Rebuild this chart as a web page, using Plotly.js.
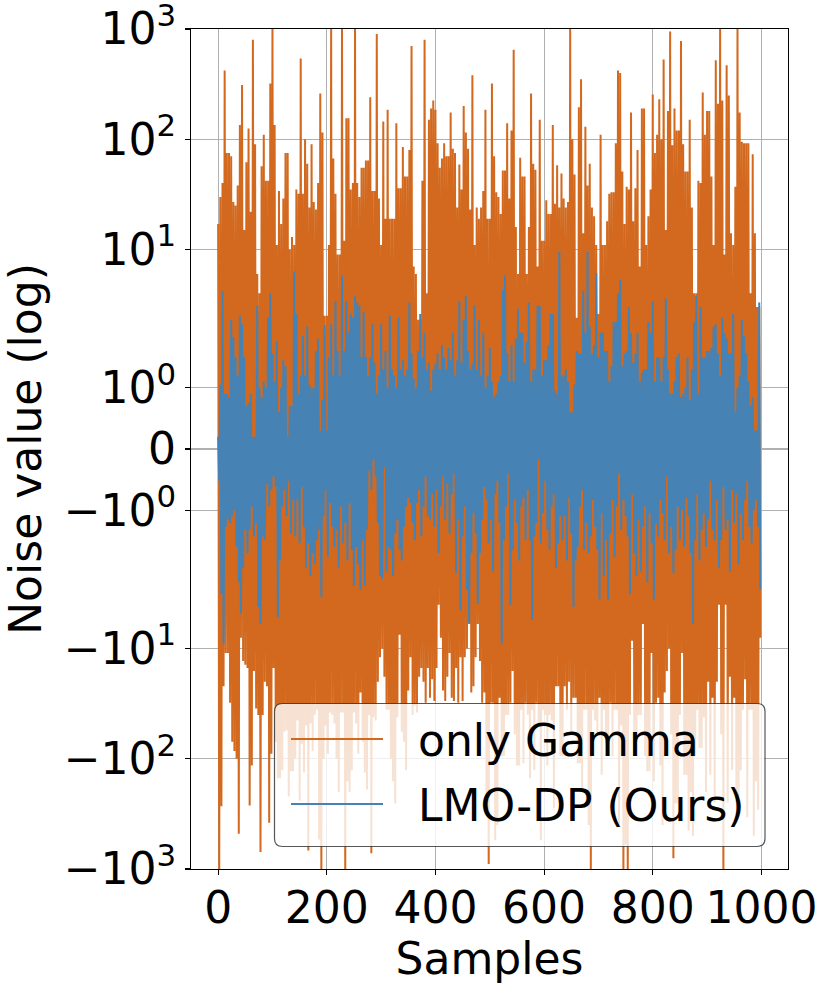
<!DOCTYPE html>
<html>
<head>
<meta charset="utf-8">
<script src="https://cdn.plot.ly/plotly-3.0.1.min.js"></script>
<style>
html,body{margin:0;padding:0;background:#ffffff;}
#chart{width:831px;height:988px;}
</style>
</head>
<body>
<div id="chart"></div>
<script>
// ---- data (raw noise values) ----
// "only Gamma": upper peaks at samples 0,4,8,...  and lower troughs at samples 2,6,10,...
const gammaPeaks = [
17,30,40,420,75,75,70,27,25,38,
135,310,15,62,125,22,800,90,6,4,
57,110,42,42,320,1100,135,11,34,17,
29,75,75,10,13,11,35,32,540,32,
100,60,24,90,27,23,40,260,115,2.5,
2.5,11,1100,67,32,9,9,1100,12,155,
155,35,40,1100,40,30,55,55,64,64,
240,34,34,900,29,11,145,19,185,19,
19,19,140,36,36,85,46,46,80,700,
7,6,2.3,2.3,42,800,4,150,190,225,
185,92,55,67,92,70,70,175,82,75,
24,59,35,200,115,82,23,380,11,24,
19,24,34,185,19,19,320,70,33,30,
21,52,52,140,29,120,650,16,6,68,
46,46,6,16,260,60,53,7,150,12,
12,28,21,21,135,26,58,24,49,29,
24,27,1100,100,48,2.4,195,350,14,130,
38,60,24,20,11,2.6,110,11,11,18,
32,33,33,92,420,400,51,17,37,35,
175,18,36,80,7,190,190,11,20,35,
255,75,110,230,100,530,15,180,950,88,
190,120,120,780,90,51,51,150,24,4,
4,42,40,265,110,180,180,46,11,520,
210,1100,225,9,470,250,14,11,37,1100,
175,95,92,92,92,4,73,14,3,3
];
const gammaTroughs = [
-1100,-270,-22,-11,-11,-31,-70,-85,-100,-480,
-8,-13,-14,-15,-265,-115,-16,-35,-40,-700,
-40,-20,-22,-380,-90,-15,-70,-150,-150,-127,
-57,-55,-220,-130,-130,-100,-45,-240,-73,-133,
-50,-680,-48,-85,-40,-36,-540,-1100,-100,-50,
-90,-38,-40,-48,-100,-200,-38,-38,-1100,-160,
-200,-127,-38,-48,-90,-25,-70,-133,-190,-40,
-720,-42,-45,-20,-12,-10,-18,-36,-36,-100,
-160,-254,-42,-7.5,-57,-70,-127,-24,-12,-40,
-33,-38,-18,-15,-20,-31,-15,-28,-19,-30,
-15,-4,-8,-24,-30,-18,-11,-28,-30,-15,
-31,-12,-30,-12,-10,-6,-25,-22,-12,-6,
-13,-31,-25,-300,-900,-31,-31,-550,-400,-28,
-95,-95,-40,-40,-31,-16,-60,-115,-115,-36,
-110,-31,-40,-150,-36,-127,-31,-50,-550,-36,
-40,-115,-40,-45,-280,-22,-22,-95,-95,-22,
-36,-20,-60,-28,-28,-110,-110,-185,-36,-36,
-400,-1100,-36,-45,-60,-28,-140,-36,-75,-75,
-31,-95,-36,-36,-400,-50,-1100,-600,-1100,-40,
-8.5,-63,-95,-40,-40,-6,-95,-130,-130,-11,
-160,-31,-28,-115,-400,-25,-16,-10,-60,-800,
-254,-254,-40,-11,-140,-140,-450,-200,-500,-95,
-36,-80,-80,-42,-200,-20,-140,-28,-250,-20,
-4,-60,-1100,-4,-250,-18,-127,-28,-220,-220,
-127,-36,-19,-340,-36,-36,-500,-160,-290,-8
];
// "LMO-DP (Ours)": upper peaks at samples 0,4,8,... and lower troughs at samples 2,6,10,...
const lmoPeaks = [
0.2,1.05,4.2,0.9,0.9,0.85,2.3,1.83,1.5,1.2,
2.5,2.1,1.5,0.7,0.75,0.9,0.2,0.2,3.1,1.0,
0.85,1.1,1.0,2.4,4.0,1.56,1.1,1.75,0.6,1.0,
1.45,1.35,0.2,0.7,0.7,6.3,2.6,0.9,1.2,1.85,
1.2,2.0,1.05,1.0,1.0,1.6,1.8,0.3,0.8,2.05,
0.3,1.5,2.1,1.2,3.4,1.6,1.2,5.8,1.6,3.4,
1.9,2.6,2.4,3.8,3.3,3.1,1.5,2.7,1.5,1.2,
1.5,2.1,1.4,0.9,1.2,2.1,1.3,1.6,1.0,2.5,
1.3,1.2,1.0,2.4,1.3,1.45,1.2,1.3,3.3,1.56,
1.15,1.0,1.6,2.6,1.5,1.9,1.3,1.4,0.95,1.3,
1.4,1.56,1.3,1.7,1.5,1.3,1.65,1.45,1.9,1.2,
1.45,3.4,1.4,2.3,3.8,1.6,1.3,1.4,3.1,1.3,
2.3,1.2,1.9,1.0,1.2,1.65,1.1,0.85,0.9,1.1,
1.2,4.3,5.8,1.56,1.1,1.7,1.1,1.8,2.9,1.9,
1.9,1.4,1.75,3.3,1.1,1.3,1.3,3.1,3.1,1.2,
1.45,1.45,1.7,2.6,2.6,0.95,0.9,9.5,1.2,1.2,
1.3,1.1,0.6,0.6,1.05,1.6,1.56,1.56,4.2,1.9,
9.5,2.0,1.56,1.7,6.1,1.5,1.9,1.9,1.6,1.6,
1.1,1.35,2.2,2.2,4.0,5.3,1.35,1.56,1.6,3.0,
1.9,1.4,1.56,1.9,1.1,1.25,1.3,1.3,2.2,1.9,
3.4,1.1,1.5,1.5,1.1,1.5,3.6,1.3,0.9,0.9,
1.1,1.5,1.56,0.85,0.9,1.0,1.5,0.8,1.3,2.2,
3.8,0.9,3.0,1.5,1.5,1.6,1.6,1.65,2.0,2.1,
1.56,1.2,2.4,1.9,1.8,1.56,1.56,2.6,0.6,1.0,
1.2,2.3,1.85,1.56,1.1,0.7,0.85,0.3,0.3,3.3
];
const lmoTroughs = [
-0.52,-3.2,-9,-1.27,-1.15,-1.21,-1.1,-1.0,-1.6,-2.5,
-4.8,-1.94,-1.32,-1.7,-1.32,-0.94,-1.43,-1.21,-4.2,-6.0,
-1.43,-1.49,-0.57,-0.94,-0.67,-0.45,-0.62,-5.2,-1.82,-0.94,
-0.67,-1.1,-0.52,-1.38,-0.83,-1.43,-0.83,-1.54,-0.62,-1.27,
-1.94,-1.54,-2.2,-1.7,-1.88,-1.49,-1.32,-3.4,-1.1,-0.67,
-1.76,-0.88,-1.27,-1.6,-1.32,-1.94,-0.94,-1.54,-1.21,-1.82,
-0.88,-1.65,-2.7,-1.6,-1.88,-2.95,-1.49,-2.7,-1.32,-0.35,
-0.67,-0.17,-0.45,-1.21,-2.2,-2.35,-0.3,-2.0,-1.6,-1.65,
-2.2,-1.38,-1.15,-1.65,-1.82,-1.27,-0.94,-0.8,-0.88,-1.21,
-1.49,-0.88,-0.67,-1.43,-0.94,-0.45,-1.1,-1.15,-0.74,-1.27,
-0.67,-1.7,-0.94,-0.45,-1.15,-0.57,-1.38,-0.74,-0.4,-2.08,
-1.15,-4.5,-1.43,-0.94,-2.95,-5.9,-1.7,-1.05,-1.38,-3.9,
-1.7,-1.15,-0.62,-0.83,-1.54,-1.15,-2.0,-0.74,-0.52,-1.21,
-9,-1.49,-0.94,-0.4,-4.0,-1.65,-0.83,-1.21,-1.82,-0.94,
-0.8,-1.49,-0.67,-1.49,-5.5,-1.43,-1.21,-0.17,-1.54,-1.05,
-0.52,-1.32,-1.65,-0.94,-0.74,-1.94,-1.54,-1.1,-1.49,-1.1,
-1.82,-0.8,-1.38,-4.2,-1.82,-1.6,-0.94,-0.67,-1.65,-1.21,
-1.7,-1.43,-0.83,-1.27,-1.65,-3.6,-1.05,-2.2,-1.49,-3.6,
-1.38,-0.83,-1.76,-0.94,-0.4,-1.32,-0.83,-1.1,-1.43,-3.2,
-0.74,-1.7,-2.2,-1.15,-2.0,-1.27,-0.94,-2.5,-1.05,-1.54,
-3.6,-1.21,-1.43,-0.83,-1.05,-1.49,-0.45,-1.7,-1.27,-2.08,
-1.65,-0.94,-1.49,-1.0,-1.6,-0.8,-1.1,-1.7,-6.0,-1.49,
-0.74,-1.82,-1.32,-1.05,-1.6,-1.15,-0.52,-1.32,-1.49,-0.83,
-1.94,-1.49,-0.62,-1.32,-1.15,-2.0,-0.67,-1.21,-0.74,-1.88,
-1.05,-1.49,-0.83,-0.52,-1.27,-1.54,-1.0,-0.83,-1.27,-2.9
];
const seriesNames = ['only Gamma', 'LMO-DP (Ours)'];
const xTickValues = [0, 200, 400, 600, 800, 1000];
const yTickValues = [1000, 100, 10, 1, 0, -1, -10, -100, -1000];
const yTickLabels = ['10<sup>3</sup>', '10<sup>2</sup>', '10<sup>1</sup>', '10<sup>0</sup>', '0',
                     '\u221210<sup>0</sup>', '\u221210<sup>1</sup>', '\u221210<sup>2</sup>', '\u221210<sup>3</sup>'];
const yLimit = 1000;

// ---- symmetric-log scale (linear threshold 2, linscale 1, base 10) ----
const LINTHRESH = 2, LINSCALE = 1, BASE = 10;
const LADJ = LINSCALE / (1 - 1 / BASE);
function symlog(v) {
  const a = Math.abs(v);
  if (a <= LINTHRESH) return v * LADJ / LINTHRESH;
  return Math.sign(v) * (LADJ + Math.log(a / LINTHRESH) / Math.log(BASE));
}
function buildSeries(peaks, troughs) {
  const x = [], y = [];
  for (let i = 0; i < peaks.length; i++) {
    x.push(4 * i);     y.push(symlog(peaks[i]));
    x.push(4 * i + 2); y.push(symlog(troughs[i]));
  }
  return {x, y};
}
const g = buildSeries(gammaPeaks, gammaTroughs);
const l = buildSeries(lmoPeaks, lmoTroughs);

const colGamma = '#D2691E', colLmo = '#4682B4';
const traces = [
  {type: 'scatter', mode: 'lines', name: seriesNames[0], x: g.x, y: g.y,
   line: {color: colGamma, width: 2}, showlegend: false},
  {type: 'scatter', mode: 'lines', name: seriesNames[1], x: l.x, y: l.y,
   line: {color: colLmo, width: 2}, showlegend: false}
];

// ---- page geometry (pixels) ----
const W = 831, H = 988;
const M = {l: 191, r: 43, t: 29, b: 119};
const PW = W - M.l - M.r, PH = H - M.t - M.b;
const px = v => (v - M.l) / PW;          // pixel x -> paper x
const py = v => (H - M.b - v) / PH;      // pixel y -> paper y

// legend drawn as a framed box (semi-transparent, like matplotlib's legend)
const box = {x0: 274.5, x1: 765, y0: 703.5, y1: 846.5, r: 8};
function roundedPath(b) {
  const X0 = px(b.x0), X1 = px(b.x1), Y0 = py(b.y1), Y1 = py(b.y0);
  const rx = b.r / PW, ry = b.r / PH;
  return 'M' + (X0 + rx) + ',' + Y0 + ' L' + (X1 - rx) + ',' + Y0 +
    ' Q' + X1 + ',' + Y0 + ' ' + X1 + ',' + (Y0 + ry) +
    ' L' + X1 + ',' + (Y1 - ry) + ' Q' + X1 + ',' + Y1 + ' ' + (X1 - rx) + ',' + Y1 +
    ' L' + (X0 + rx) + ',' + Y1 + ' Q' + X0 + ',' + Y1 + ' ' + X0 + ',' + (Y1 - ry) +
    ' L' + X0 + ',' + (Y0 + ry) + ' Q' + X0 + ',' + Y0 + ' ' + (X0 + rx) + ',' + Y0 + ' Z';
}
const legendRows = [
  {name: seriesNames[0], color: colGamma, y: 739},
  {name: seriesNames[1], color: colLmo, y: 804}
];
const shapes = [{
  type: 'path', xref: 'paper', yref: 'paper', path: roundedPath(box), layer: 'above',
  fillcolor: 'rgba(255,255,255,0.8)', line: {color: 'rgba(30,30,30,0.75)', width: 1.2}
}];
const annotations = [];
const fontFam = 'DejaVu Sans, sans-serif';
legendRows.forEach(r => {
  shapes.push({type: 'line', xref: 'paper', yref: 'paper', layer: 'above',
    x0: px(291), x1: px(383), y0: py(r.y), y1: py(r.y), line: {color: r.color, width: 2}});
  annotations.push({xref: 'paper', yref: 'paper', x: px(416), y: py(r.y + 1), xanchor: 'left', yanchor: 'middle',
    text: r.name, showarrow: false, font: {family: fontFam, size: 44, color: '#000'}});
});

const axisCommon = {
  ticks: 'outside', ticklen: 5, tickwidth: 1.1, tickcolor: '#000',
  showline: true, linecolor: '#000', linewidth: 1.1, mirror: true,
  showgrid: true, gridcolor: '#b0b0b0', gridwidth: 1.1, zeroline: false,
  ticklabeloverflow: 'allow',
  tickfont: {family: fontFam, size: 44, color: '#000'}
};
const eps = 1e-4;
const layout = {
  width: W, height: H,
  margin: {l: M.l, r: M.r, t: M.t, b: M.b, pad: 0},
  paper_bgcolor: '#ffffff', plot_bgcolor: '#ffffff',
  font: {family: fontFam, size: 44, color: '#000'},
  showlegend: false,
  shapes: shapes,
  annotations: annotations,
  xaxis: Object.assign({}, axisCommon, {
    range: [-49.95, 1048.95], tickmode: 'array', tickvals: xTickValues,
    ticktext: xTickValues.map(String), ticklabelstandoff: -5,
    title: {text: 'Samples', font: {family: fontFam, size: 44, color: '#000'}, standoff: 0}
  }),
  yaxis: Object.assign({}, axisCommon, {
    range: [symlog(-yLimit) - eps, symlog(yLimit) + eps], tickmode: 'array',
    tickvals: yTickValues.map(symlog), ticktext: yTickLabels,
    title: {text: 'Noise value (log)', font: {family: fontFam, size: 44, color: '#000'}, standoff: 30}
  })
};
Plotly.newPlot('chart', traces, layout, {staticPlot: true, displayModeBar: false});
</script>
</body>
</html>
